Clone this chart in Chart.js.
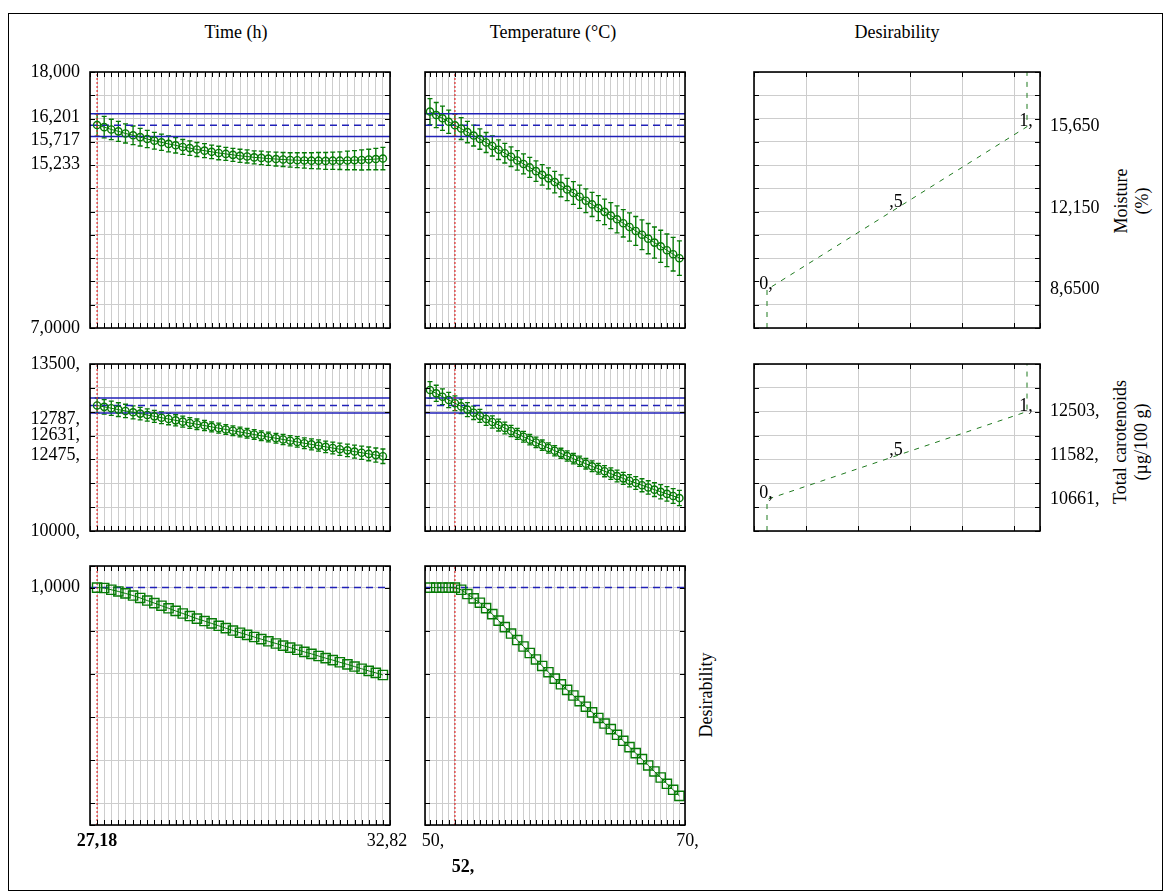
<!DOCTYPE html>
<html>
<head>
<meta charset="utf-8">
<script src="https://cdn.jsdelivr.net/npm/chart.js@4.4.1/dist/chart.umd.min.js"></script>
<style>
  body { margin: 0; background: #fff; }
  #page { position: relative; width: 1169px; height: 893px; overflow: hidden;
          font-family: "Liberation Serif", "Times New Roman", serif; color: #000; }
  #frame { position: absolute; left: 8px; top: 13px; width: 1155px; height: 878px;
           border: 1.5px solid #000; box-sizing: border-box; }
  canvas { position: absolute; left: 0; top: 0; }
  .title { position: absolute; font-size: 18px; white-space: nowrap; transform: translate(-50%, -50%); }
  .rot { position: absolute; font-size: 18px; line-height: 21px; white-space: nowrap; text-align: center;
         transform: translate(-50%, -50%) rotate(-90deg); }
</style>
</head>
<body>
<div id="page">
  <div id="frame"></div>
  <div class="title" style="left:236px;top:32px">Time (h)</div>
  <div class="title" style="left:553px;top:32px">Temperature (°C)</div>
  <div class="title" style="left:897px;top:32px">Desirability</div>
  <div class="rot" style="left:1132px;top:201px">Moisture<br>(%)</div>
  <div class="rot" style="left:1131px;top:442px">Total carotenoids<br>(µg/100 g)</div>
  <div class="rot" style="left:706px;top:695px">Desirability</div>

  <canvas id="m_time" width="1169" height="893"></canvas>
  <canvas id="m_temp" width="1169" height="893"></canvas>
  <canvas id="m_des" width="1169" height="893"></canvas>
  <canvas id="c_time" width="1169" height="893"></canvas>
  <canvas id="c_temp" width="1169" height="893"></canvas>
  <canvas id="c_des" width="1169" height="893"></canvas>
  <canvas id="d_time" width="1169" height="893"></canvas>
  <canvas id="d_temp" width="1169" height="893"></canvas>
</div>

<script>
const timeSteps = [27.18, 27.32, 27.46, 27.60, 27.74, 27.89, 28.03, 28.17, 28.31, 28.45, 28.59,
  28.73, 28.87, 29.01, 29.15, 29.30, 29.44, 29.58, 29.72, 29.86, 30.00, 30.14, 30.28, 30.42,
  30.56, 30.71, 30.85, 30.99, 31.13, 31.27, 31.41, 31.55, 31.69, 31.83, 31.97, 32.12, 32.26,
  32.40, 32.54, 32.68, 32.82];
const tempSteps = [50, 50.5, 51, 51.5, 52, 52.5, 53, 53.5, 54, 54.5, 55, 55.5, 56, 56.5, 57,
  57.5, 58, 58.5, 59, 59.5, 60, 60.5, 61, 61.5, 62, 62.5, 63, 63.5, 64, 64.5, 65, 65.5, 66,
  66.5, 67, 67.5, 68, 68.5, 69, 69.5, 70];

const currentTime = 27.18;
const currentTemp = 52;

// moisture (%)
const moistVsTime = [15.72, 15.63, 15.53, 15.45, 15.36, 15.28, 15.20, 15.12, 15.05, 14.98, 14.91,
  14.85, 14.78, 14.73, 14.67, 14.62, 14.57, 14.52, 14.48, 14.44, 14.40, 14.37, 14.33, 14.31,
  14.28, 14.26, 14.24, 14.22, 14.21, 14.20, 14.19, 14.19, 14.18, 14.19, 14.19, 14.20, 14.21,
  14.22, 14.24, 14.26, 14.28];
const moistVsTimeCI = [0.48, 0.46, 0.44, 0.43, 0.41, 0.40, 0.38, 0.37, 0.36, 0.35, 0.34, 0.33,
  0.32, 0.31, 0.30, 0.30, 0.29, 0.29, 0.28, 0.28, 0.28, 0.28, 0.28, 0.29, 0.29, 0.30, 0.30,
  0.31, 0.32, 0.33, 0.34, 0.35, 0.36, 0.37, 0.38, 0.40, 0.41, 0.43, 0.44, 0.46, 0.48];
const moistVsTemp = [16.30, 16.15, 16.01, 15.86, 15.71, 15.57, 15.42, 15.27, 15.12, 14.97, 14.82,
  14.66, 14.51, 14.36, 14.20, 14.05, 13.90, 13.74, 13.58, 13.43, 13.27, 13.11, 12.95, 12.80,
  12.64, 12.47, 12.31, 12.15, 11.99, 11.83, 11.67, 11.50, 11.34, 11.17, 11.01, 10.84, 10.67,
  10.51, 10.34, 10.17, 10.00];
const moistVsTempCI = [0.56, 0.54, 0.52, 0.50, 0.48, 0.47, 0.46, 0.45, 0.44, 0.43, 0.43, 0.42,
  0.42, 0.42, 0.42, 0.43, 0.43, 0.44, 0.44, 0.45, 0.46, 0.47, 0.48, 0.49, 0.50, 0.51, 0.52,
  0.54, 0.55, 0.56, 0.58, 0.59, 0.61, 0.62, 0.64, 0.65, 0.67, 0.69, 0.70, 0.72, 0.74];
const moistCurrent = [16.201, 15.717, 15.233];   // upper CI, predicted, lower CI
const moistDesirLevels = [8.65, 12.15, 15.65];   // response at d = 0, ,5, 1

// total carotenoids (µg/100 g)
const carotVsTime = [12631, 12602, 12573, 12544, 12516, 12488, 12460, 12431, 12403, 12375, 12347,
  12319, 12292, 12264, 12237, 12210, 12182, 12155, 12128, 12102, 12075, 12049, 12022, 11996,
  11970, 11944, 11918, 11892, 11866, 11840, 11815, 11790, 11764, 11739, 11714, 11690, 11665,
  11640, 11616, 11591, 11567];
const carotVsTimeCI = [156, 152, 148, 144, 140, 136, 132, 129, 126, 123, 120, 117, 114, 112, 110,
  108, 106, 104, 103, 102, 101, 101, 101, 102, 103, 104, 106, 108, 110, 112, 115, 118, 121, 124,
  128, 132, 136, 140, 144, 148, 152];
const carotVsTemp = [12955, 12885, 12815, 12746, 12678, 12611, 12544, 12478, 12413, 12348, 12284,
  12221, 12158, 12096, 12035, 11975, 11915, 11856, 11798, 11740, 11683, 11627, 11571, 11516,
  11462, 11409, 11356, 11304, 11253, 11202, 11152, 11103, 11054, 11006, 10959, 10913, 10867,
  10822, 10778, 10734, 10691];
const carotVsTempCI = [175, 170, 165, 160, 156, 151, 146, 141, 137, 133, 129, 125, 122, 119, 116,
  114, 112, 110, 109, 108, 107, 107, 107, 108, 109, 110, 112, 114, 116, 119, 122, 125, 128, 132,
  136, 140, 144, 148, 152, 156, 160];
const carotCurrent = [12787, 12631, 12475];
const carotDesirLevels = [10661, 11582, 12503];

// overall desirability
const desirVsTime = [1.000, 0.998, 0.990, 0.982, 0.973, 0.963, 0.952, 0.940, 0.928, 0.916, 0.904,
  0.892, 0.880, 0.868, 0.856, 0.845, 0.834, 0.823, 0.812, 0.801, 0.791, 0.781, 0.771, 0.761,
  0.751, 0.741, 0.731, 0.722, 0.712, 0.702, 0.693, 0.683, 0.673, 0.664, 0.654, 0.644, 0.634,
  0.624, 0.614, 0.605, 0.595];
const desirVsTemp = [1.000, 1.000, 1.000, 1.000, 1.000, 0.990, 0.970, 0.950, 0.930, 0.905, 0.877,
  0.847, 0.817, 0.787, 0.757, 0.727, 0.697, 0.667, 0.637, 0.608, 0.578, 0.552, 0.526, 0.500,
  0.474, 0.448, 0.422, 0.396, 0.370, 0.344, 0.318, 0.290, 0.261, 0.233, 0.205, 0.176, 0.148,
  0.120, 0.091, 0.063, 0.035];
const desirTarget = 1.0;

const desirSteps = [0, 0.5, 1];
const desirStepLabels = ['0,', ',5', '1,'];

// ---- layout ----
const W = 1169, H = 893;
const GREEN = '#067a06', DGREEN = '#1f7a1f', BLUE = '#2020b8', RED = '#e02828', GRID = '#cdcdcd';
const FONT = '18px "Liberation Serif", "Times New Roman", serif';

function steps(a, b, s) {
  const out = [];
  for (let v = a; v <= b + s / 1000; v += s) out.push(Math.round(v * 1e6) / 1e6);
  return out;
}

const colTime = { l: 90, r: 390, min: 27.04, max: 32.96, grid: [27.04, ...timeSteps, 32.96] };
const colTemp = { l: 425, r: 685, min: 49.6, max: 70.45, grid: [49.6, ...tempSteps, 70.45] };
const colDes = { l: 754, r: 1040, min: -0.05, max: 1.05, grid: [-0.05, 0.15, 0.35, 0.55, 0.75, 0.95, 1.05] };
const rowMoist = { t: 72, b: 328, min: 7, max: 18, grid: steps(7, 18, 1) };
const rowCarot = { t: 364, b: 531, min: 10000, max: 13500, grid: steps(10000, 13500, 500) };
const rowDesir = { t: 566, b: 825, min: -0.1, max: 1.1, grid: [-0.1, 0, 0.2, 0.4, 0.6, 0.8, 1.0, 1.1] };

const panelExtras = {};

const panelDecor = {
  id: 'panelDecor',
  beforeDatasetsDraw(chart) {
    const ex = panelExtras[chart.canvas.id];
    if (!ex || !ex.errorBars) return;
    const { ctx } = chart, xs = chart.scales.x, ys = chart.scales.y, eb = ex.errorBars;
    ctx.save();
    ctx.strokeStyle = GREEN;
    ctx.lineWidth = 1.3;
    ctx.beginPath();
    eb.x.forEach((xv, i) => {
      const px = xs.getPixelForValue(xv);
      const top = ys.getPixelForValue(eb.y[i] + eb.ci[i]);
      const bot = ys.getPixelForValue(eb.y[i] - eb.ci[i]);
      ctx.moveTo(px, top); ctx.lineTo(px, bot);
      ctx.moveTo(px - 2.5, top); ctx.lineTo(px + 2.5, top);
      ctx.moveTo(px - 2.5, bot); ctx.lineTo(px + 2.5, bot);
    });
    ctx.stroke();
    ctx.restore();
  },
  afterDraw(chart) {
    const { ctx, chartArea: a } = chart, xs = chart.scales.x, ys = chart.scales.y;
    const ex = panelExtras[chart.canvas.id] || {};
    ctx.save();
    // inward tick marks
    ctx.strokeStyle = '#000';
    ctx.lineWidth = 1;
    ctx.beginPath();
    xs.ticks.forEach(t => {
      const px = Math.round(xs.getPixelForValue(t.value)) + 0.5;
      ctx.moveTo(px, a.top); ctx.lineTo(px, a.top + 5);
      ctx.moveTo(px, a.bottom); ctx.lineTo(px, a.bottom - 5);
    });
    ys.ticks.forEach(t => {
      const py = Math.round(ys.getPixelForValue(t.value)) + 0.5;
      ctx.moveTo(a.left, py); ctx.lineTo(a.left + 5, py);
      ctx.moveTo(a.right, py); ctx.lineTo(a.right - 5, py);
    });
    ctx.stroke();
    // frame
    ctx.lineWidth = 1.6;
    ctx.strokeRect(a.left, a.top, a.right - a.left, a.bottom - a.top);
    // labels
    ctx.fillStyle = '#000';
    (ex.labels || []).forEach(l => {
      ctx.font = (l.bold ? 'bold ' : '') + FONT;
      let px, py;
      if (l.side === 'left') {
        px = a.left - 10; py = ys.getPixelForValue(l.v) + (l.dy || 0);
        ctx.textAlign = 'right'; ctx.textBaseline = 'middle';
      } else if (l.side === 'right') {
        px = a.right + 10; py = ys.getPixelForValue(l.v) + (l.dy || 0);
        ctx.textAlign = 'left'; ctx.textBaseline = 'middle';
      } else if (l.side === 'bottom') {
        px = xs.getPixelForValue(l.v) + (l.dx || 0); py = a.bottom + l.dy;
        ctx.textAlign = 'center'; ctx.textBaseline = 'middle';
      } else {
        px = xs.getPixelForValue(l.x) + (l.dx || 0); py = ys.getPixelForValue(l.y) + (l.dy || 0);
        ctx.textAlign = 'center'; ctx.textBaseline = 'alphabetic';
      }
      ctx.fillText(l.text, px, py);
    });
    ctx.restore();
  }
};

function hLine(col, v, dash) {
  return { data: [{ x: col.min, y: v }, { x: col.max, y: v }], showLine: true, borderColor: BLUE,
    borderWidth: 1.5, borderDash: dash || [], pointRadius: 0, order: 3 };
}
function vLine(row, v) {
  return { data: [{ x: v, y: row.min }, { x: v, y: row.max }], showLine: true, borderColor: RED,
    borderWidth: 1.2, borderDash: [2, 2], pointRadius: 0, order: 2 };
}
function profile(xs, ys, style, radius) {
  return { data: xs.map((x, i) => ({ x, y: ys[i] })), showLine: true, borderColor: GREEN,
    borderWidth: 1, pointStyle: style, pointRadius: radius, pointBorderColor: GREEN,
    pointBackgroundColor: 'rgba(255,255,255,0)', pointBorderWidth: 1.4, order: 1 };
}
function desirFn(row, levels) {
  const pts = [{ x: 0, y: row.min }];
  desirSteps.forEach((d, i) => pts.push({ x: d, y: levels[i] }));
  pts.push({ x: 1, y: row.max });
  return { data: pts, showLine: true, borderColor: DGREEN, borderWidth: 1, borderDash: [5, 6],
    pointRadius: 0, order: 1 };
}

function panel(id, col, row, datasets, extras) {
  panelExtras[id] = extras || {};
  return new Chart(document.getElementById(id), {
    type: 'scatter',
    data: { datasets },
    options: {
      responsive: false, animation: false, events: [],
      layout: { autoPadding: false, padding: { left: col.l, right: W - col.r, top: row.t, bottom: H - row.b } },
      plugins: { legend: { display: false }, tooltip: { enabled: false } },
      scales: {
        x: { type: 'linear', min: col.min, max: col.max,
             afterBuildTicks: s => { s.ticks = col.grid.map(v => ({ value: v })); },
             afterFit: s => { s.height = 0; },
             ticks: { display: false }, grid: { color: GRID, drawTicks: false }, border: { display: false } },
        y: { type: 'linear', min: row.min, max: row.max,
             afterBuildTicks: s => { s.ticks = row.grid.map(v => ({ value: v })); },
             afterFit: s => { s.width = 0; },
             ticks: { display: false }, grid: { color: GRID, drawTicks: false }, border: { display: false } }
      }
    },
    plugins: [panelDecor]
  });
}

// ---- row 1: moisture ----
panel('m_time', colTime, rowMoist, [
  profile(timeSteps, moistVsTime, 'circle', 3.6),
  vLine(rowMoist, currentTime),
  hLine(colTime, moistCurrent[0]), hLine(colTime, moistCurrent[1], [7, 5]), hLine(colTime, moistCurrent[2])
], {
  errorBars: { x: timeSteps, y: moistVsTime, ci: moistVsTimeCI },
  labels: [
    { side: 'left', v: 18, text: '18,000' },
    { side: 'left', v: moistCurrent[0], dy: 3, text: '16,201' },
    { side: 'left', v: moistCurrent[1], dy: 15, text: '15,717' },
    { side: 'left', v: moistCurrent[2], dy: 28, text: '15,233' },
    { side: 'left', v: 7, text: '7,0000' }
  ]
});
panel('m_temp', colTemp, rowMoist, [
  profile(tempSteps, moistVsTemp, 'circle', 3.6),
  vLine(rowMoist, currentTemp),
  hLine(colTemp, moistCurrent[0]), hLine(colTemp, moistCurrent[1], [7, 5]), hLine(colTemp, moistCurrent[2])
], { errorBars: { x: tempSteps, y: moistVsTemp, ci: moistVsTempCI } });
panel('m_des', colDes, rowMoist, [desirFn(rowMoist, moistDesirLevels)], {
  labels: [
    ...desirSteps.map((d, i) => ({ side: 'point', x: d, y: moistDesirLevels[i], dx: -1, dy: -1, text: desirStepLabels[i] })),
    { side: 'right', v: moistDesirLevels[2], text: '15,650' },
    { side: 'right', v: moistDesirLevels[1], text: '12,150' },
    { side: 'right', v: moistDesirLevels[0], text: '8,6500' }
  ]
});

// ---- row 2: total carotenoids ----
panel('c_time', colTime, rowCarot, [
  profile(timeSteps, carotVsTime, 'circle', 3.6),
  vLine(rowCarot, currentTime),
  hLine(colTime, carotCurrent[0]), hLine(colTime, carotCurrent[1], [7, 5]), hLine(colTime, carotCurrent[2])
], {
  errorBars: { x: timeSteps, y: carotVsTime, ci: carotVsTimeCI },
  labels: [
    { side: 'left', v: 13500, text: '13500,' },
    { side: 'left', v: carotCurrent[0], dy: 21, text: '12787,' },
    { side: 'left', v: carotCurrent[1], dy: 30, text: '12631,' },
    { side: 'left', v: carotCurrent[2], dy: 42, text: '12475,' },
    { side: 'left', v: 10000, text: '10000,' }
  ]
});
panel('c_temp', colTemp, rowCarot, [
  profile(tempSteps, carotVsTemp, 'circle', 3.6),
  vLine(rowCarot, currentTemp),
  hLine(colTemp, carotCurrent[0]), hLine(colTemp, carotCurrent[1], [7, 5]), hLine(colTemp, carotCurrent[2])
], { errorBars: { x: tempSteps, y: carotVsTemp, ci: carotVsTempCI } });
panel('c_des', colDes, rowCarot, [desirFn(rowCarot, carotDesirLevels)], {
  labels: [
    ...desirSteps.map((d, i) => ({ side: 'point', x: d, y: carotDesirLevels[i], dx: -1, dy: -1, text: desirStepLabels[i] })),
    { side: 'right', v: carotDesirLevels[2], text: '12503,' },
    { side: 'right', v: carotDesirLevels[1], text: '11582,' },
    { side: 'right', v: carotDesirLevels[0], text: '10661,' }
  ]
});

// ---- row 3: overall desirability ----
panel('d_time', colTime, rowDesir, [
  profile(timeSteps, desirVsTime, 'rect', 6.5),
  vLine(rowDesir, currentTime),
  hLine(colTime, desirTarget, [7, 5])
], {
  labels: [
    { side: 'left', v: 1, text: '1,0000' },
    { side: 'bottom', v: currentTime, dy: 16, bold: true, text: '27,18' },
    { side: 'bottom', v: 32.82, dx: 4, dy: 16, text: '32,82' }
  ]
});
panel('d_temp', colTemp, rowDesir, [
  profile(tempSteps, desirVsTemp, 'rect', 6.5),
  vLine(rowDesir, currentTemp),
  hLine(colTemp, desirTarget, [7, 5])
], {
  labels: [
    { side: 'bottom', v: 50, dx: 3, dy: 16, text: '50,' },
    { side: 'bottom', v: 70, dx: 8, dy: 16, text: '70,' },
    { side: 'bottom', v: currentTemp, dx: 8, dy: 42, bold: true, text: '52,' }
  ]
});
</script>
</body>
</html>
